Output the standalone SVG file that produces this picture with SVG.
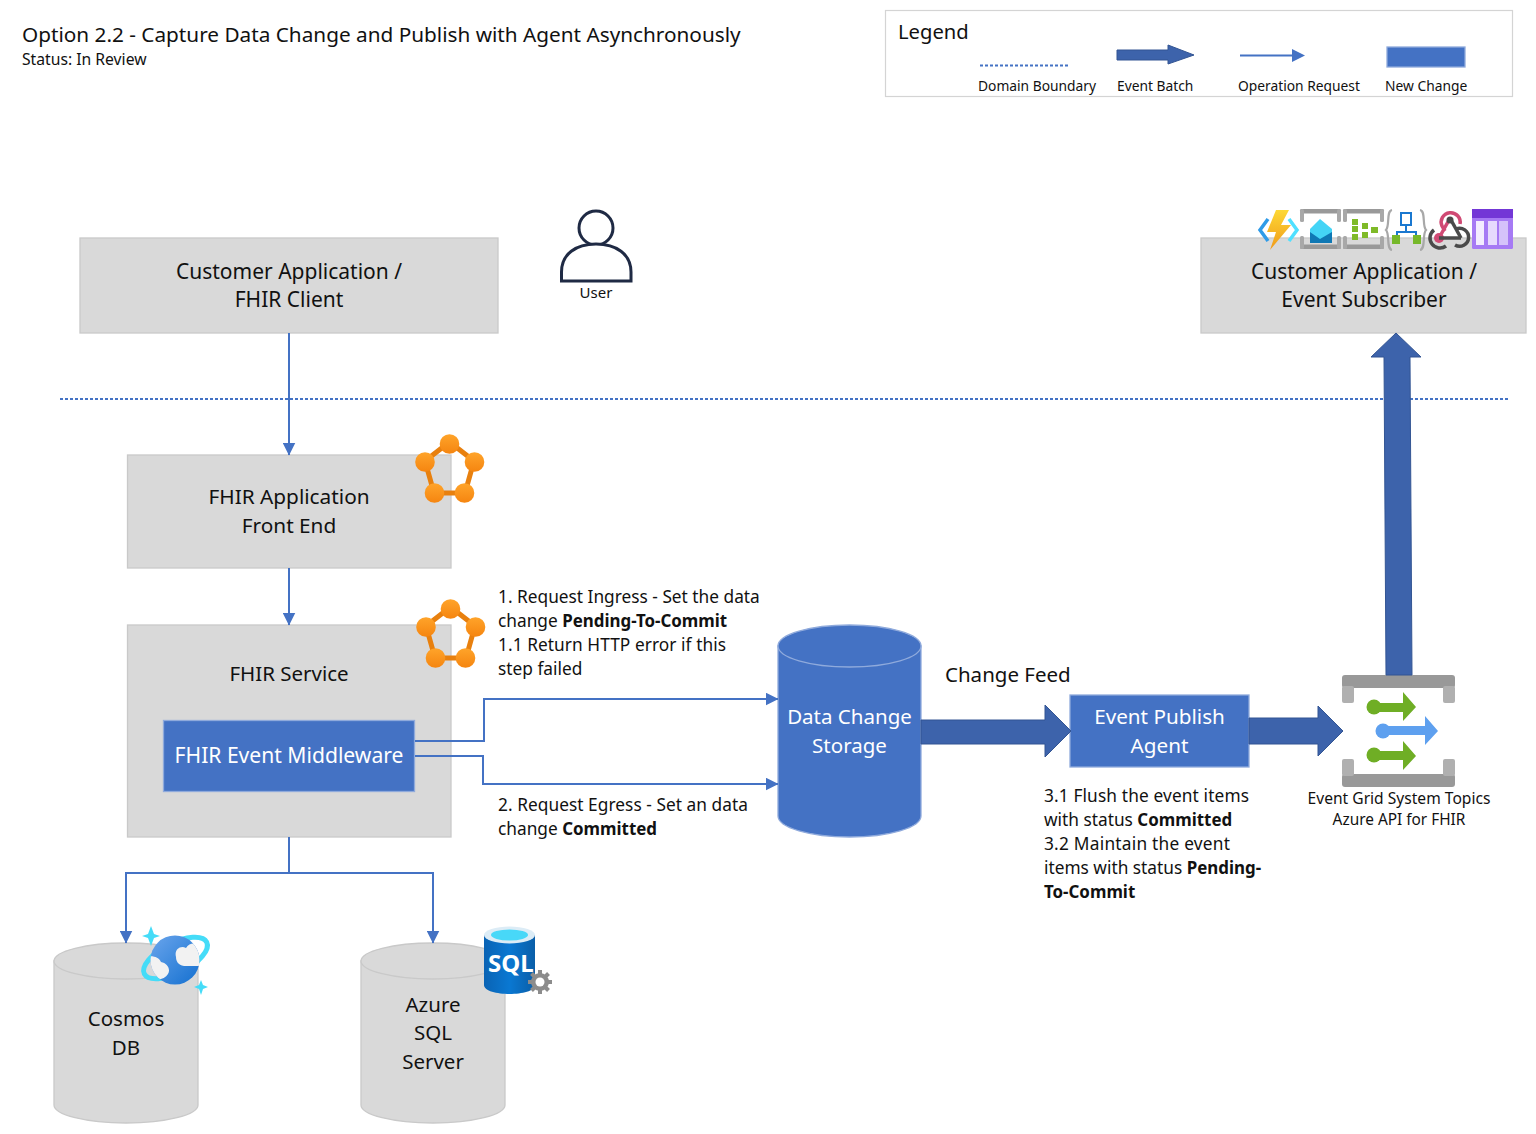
<svg xmlns="http://www.w3.org/2000/svg" width="1536" height="1134" viewBox="0 0 1536 1134">
<style>
text{font-family:"Noto Sans","Open Sans","DejaVu Sans",sans-serif;fill:#111}
.t22{font-size:20.750px}.t21{font-size:21px}.t20{font-size:20.500px}.t18{font-size:17.300px}.t14{font-size:13.800px}.t15{font-size:15.600px}
.m{text-anchor:middle}.w{fill:#fff}.b{font-weight:700;font-size:16.900px}
.g{fill:#d9d9d9;stroke:#c9c9c9;stroke-width:1.3}
.n{fill:#4472c4;stroke:#8faadc;stroke-width:1.3}
.c{fill:none;stroke:#4472c4;stroke-width:2}
.big{fill:#3d63ab;stroke:#335593;stroke-width:1}
.oe{stroke:#e8800e;stroke-width:5;fill:none}
.gb{fill:#999}
.gl{fill:#b0b0b0}
</style>
<defs>
<marker id="ah" viewBox="0 0 13 13" refX="12.5" refY="6.5" markerWidth="13" markerHeight="13" markerUnits="userSpaceOnUse" orient="auto"><path d="M0 0L13 6.500L0 13z" fill="#4472c4"/></marker>
<linearGradient id="og" x1="0" y1="0" x2="0" y2="1"><stop offset="0" stop-color="#ffa42a"/><stop offset="1" stop-color="#f58510"/></linearGradient>
<linearGradient id="cg" x1="0" y1="0" x2="1" y2="1"><stop offset="0" stop-color="#6aa5ec"/><stop offset="1" stop-color="#1470d0"/></linearGradient>
<linearGradient id="sg" x1="0" y1="0" x2="1" y2="0"><stop offset="0" stop-color="#0a63b4"/><stop offset=".5" stop-color="#0a78d2"/><stop offset="1" stop-color="#0a5ea8"/></linearGradient>
<linearGradient id="bolt" x1="0" y1="0" x2="0" y2="1"><stop offset="0" stop-color="#fdd835"/><stop offset="1" stop-color="#f09a1a"/></linearGradient>
<clipPath id="globe"><circle cx="175" cy="960" r="24.500"/></clipPath>
<g id="penta">
<path class="oe" d="M34.500 8L10 27L19 59H50L59 27z"/>
<circle cx="34.500" cy="10" r="9.800" fill="url(#og)"/><circle cx="10" cy="28" r="9.800" fill="url(#og)"/><circle cx="59.500" cy="28" r="9.800" fill="url(#og)"/><circle cx="19.500" cy="59" r="9.800" fill="url(#og)"/><circle cx="49.500" cy="59" r="9.800" fill="url(#og)"/>
</g>
<g id="bracket">
<rect x="0" y="0" width="41" height="4.500" rx="1.500" fill="#999"/><rect x="0" y="0" width="4" height="13" rx="1.500" fill="#a8a8a8"/><rect x="37" y="0" width="4" height="13" rx="1.500" fill="#a8a8a8"/>
<rect x="0" y="35.500" width="41" height="4.500" rx="1.500" fill="#999"/><rect x="0" y="27" width="4" height="13" rx="1.500" fill="#a8a8a8"/><rect x="37" y="27" width="4" height="13" rx="1.500" fill="#a8a8a8"/>
</g>
</defs>
<rect width="1536" height="1134" fill="#fff"/>

<g id="title">
<text class="t22" x="22" y="42">Option 2.2 - Capture Data Change and Publish with Agent Asynchronously</text>
<text x="22" y="65" style="font-size:15.700px">Status: In Review</text>
</g>

<g id="legend">
<rect x="885.500" y="10.500" width="627" height="86" fill="#fff" stroke="#d4d4d4" stroke-width="1.2"/>
<text x="898" y="39" style="font-size:20.200px">Legend</text>
<path d="M980 65.500H1068" fill="none" stroke="#4472c4" stroke-width="2" stroke-dasharray="3 2"/>
<path class="big" d="M1117 50H1168V45L1194 55L1168 64V60H1117z"/>
<path d="M1240 55.500H1292" fill="none" stroke="#4472c4" stroke-width="2"/>
<path d="M1292 49L1305 55.500L1292 62z" fill="#4472c4"/>
<rect class="n" x="1387" y="47" width="78" height="20"/>
<text class="t14" x="978" y="91">Domain Boundary</text>
<text class="t14" x="1117" y="91">Event Batch</text>
<text class="t14" x="1238" y="91">Operation Request</text>
<text class="t14" x="1385" y="91">New Change</text>
</g>

<g id="customer-app">
<rect class="g" x="80" y="238" width="418" height="95"/>
<text class="t21 m" x="289" y="279">Customer Application /</text>
<text class="t21 m" x="289" y="307">FHIR Client</text>
</g>

<g id="user">
<circle cx="596" cy="228" r="17" fill="#fff" stroke="#1f2a44" stroke-width="3"/>
<path d="M561.500 281V272C561.500 254 576 244 596 244C616 244 631 254 631 272V281z" fill="#fff" stroke="#1f2a44" stroke-width="3"/>
<text class="m" x="596" y="298" style="font-size:15px">User</text>
</g>

<g id="subscriber">
<rect class="g" x="1201" y="238" width="325" height="95"/>
<text class="t21 m" x="1364" y="279">Customer Application /</text>
<text class="t21 m" x="1364" y="307">Event Subscriber</text>
</g>

<g id="subscriber-icons">
<path d="M1268 219L1260 230L1268 241" fill="none" stroke="#2f9be8" stroke-width="3.500"/>
<path d="M1289 219L1297 230L1289 241" fill="none" stroke="#50e0ff" stroke-width="3.500"/>
<path d="M1276 210H1289L1281 225H1291L1270 250L1276 232H1267z" fill="url(#bolt)"/>
<use href="#bracket" x="1300" y="209"/>
<path d="M1320 219L1332 229V243H1310V229z" fill="#44d4f6"/><path d="M1310 232L1320 239L1332 232V243H1310z" fill="#0f78b4"/>
<use href="#bracket" x="1343" y="209"/>
<g fill="#7fba28"><rect x="1352" y="219" width="6" height="6"/><rect x="1352" y="226" width="6" height="6"/><rect x="1352" y="234" width="6" height="6"/><rect x="1362" y="223" width="6" height="6"/><rect x="1362" y="232" width="6" height="6"/><rect x="1371" y="227" width="7" height="6"/></g>
<path d="M1392 210C1386 211 1390 226 1386 230C1390 234 1386 249 1392 250M1420 210C1426 211 1422 226 1426 230C1422 234 1426 249 1420 250" fill="none" stroke="#a8a8a8" stroke-width="2.200"/>
<rect x="1401" y="213" width="10" height="12" fill="#fff" stroke="#1a78d0" stroke-width="2"/>
<path d="M1406 225V232M1397 240V232H1416V240" fill="none" stroke="#1a78d0" stroke-width="2"/>
<rect x="1392" y="235" width="8" height="9" fill="#76b82a"/><rect x="1413" y="235" width="8" height="9" fill="#76b82a"/>
<path d="M1445 231L1442 226A9.500 9.500 0 1 1 1460 224" fill="none" stroke="#d04a74" stroke-width="3.500"/>
<path d="M1439 238L1449 220" fill="none" stroke="#d04a74" stroke-width="3.500"/>
<circle cx="1439" cy="238" r="5" fill="#d04a74"/>
<path d="M1451 220L1461 238" fill="none" stroke="#4a4a4a" stroke-width="3.500"/>
<circle cx="1450" cy="220" r="3.500" fill="#4a4a4a"/>
<path d="M1439 238H1461" fill="none" stroke="#4a4a4a" stroke-width="3.500"/>
<path d="M1456 229A9 9 0 1 1 1455 245" fill="none" stroke="#4a4a4a" stroke-width="3.500"/>
<path d="M1446 246A9.500 9.500 0 1 1 1434 230" fill="none" stroke="#4a4a4a" stroke-width="3.500"/>
<rect x="1472" y="209" width="41" height="40" rx="1.500" fill="#a67af4"/><rect x="1472" y="209" width="41" height="9" fill="#7337d6"/>
<rect x="1476" y="221" width="8" height="24" fill="#f3ecff"/><rect x="1488" y="221" width="9" height="24" fill="#e6dafd"/><rect x="1499" y="221" width="9" height="24" fill="#d5c2fa"/>
</g>

<g id="fhir-front-end">
<rect class="g" x="127.500" y="455" width="323.500" height="113"/>
<text class="t20 m" x="289" y="504" style="font-size:20.800px">FHIR Application</text>
<text class="t20 m" x="289" y="533" style="font-size:20.800px">Front End</text>
<use href="#penta" x="415" y="434"/>
</g>

<g id="fhir-service">
<rect class="g" x="127.500" y="625" width="323.500" height="212"/>
<text class="t20 m" x="289" y="681">FHIR Service</text>
<use href="#penta" x="416" y="599"/>
</g>

<g id="fhir-middleware">
<rect class="n" x="163.500" y="720.500" width="251" height="71"/>
<text class="t21 m w" x="289" y="763" style="font-size:21.100px">FHIR Event Middleware</text>
</g>

<g id="data-change-storage">
<path class="n" d="M778 646V816A71.500 21 0 0 0 921 816V646z"/>
<ellipse class="n" cx="849.500" cy="646" rx="71.500" ry="21"/>
<text class="t20 m w" x="849.500" y="724">Data Change</text>
<text class="t20 m w" x="849.500" y="753">Storage</text>
</g>

<g id="event-publish-agent">
<rect class="n" x="1070" y="695" width="179" height="72"/>
<text class="t20 m w" x="1159.500" y="724" style="font-size:20.700px">Event Publish</text>
<text class="t20 m w" x="1159.500" y="753" style="font-size:20.700px">Agent</text>
</g>

<g id="event-grid">
<rect x="1342" y="675" width="113" height="13" rx="3" class="gb"/>
<rect x="1342" y="686" width="12" height="17" rx="2" class="gl"/><rect x="1443" y="686" width="12" height="17" rx="2" class="gl"/>
<rect x="1342" y="774" width="113" height="13" rx="3" class="gb"/>
<rect x="1342" y="759" width="12" height="17" rx="2" class="gl"/><rect x="1443" y="759" width="12" height="17" rx="2" class="gl"/>
<path d="M1374 703H1403V692L1416 707L1403 721V712H1374z" fill="#6fae25"/><circle cx="1374" cy="707" r="7.500" fill="#6fae25"/>
<path d="M1383 726H1425V716L1438 731L1425 745V735H1383z" fill="#5ea0ef"/><circle cx="1383" cy="731" r="7.500" fill="#5ea0ef"/>
<path d="M1374 751H1403V741L1416 756L1403 770V760H1374z" fill="#6fae25"/><circle cx="1374" cy="755" r="7.500" fill="#6fae25"/>
<text class="t15 m" x="1399" y="804">Event Grid System Topics</text>
<text class="t15 m" x="1399" y="825" style="font-size:15.400px">Azure API for FHIR</text>
</g>

<g id="cosmos-db">
<path class="g" d="M54 961V1105A72 18 0 0 0 198 1105V961z"/>
<ellipse class="g" cx="126" cy="961" rx="72" ry="18"/>
<text class="t20 m" x="126" y="1026">Cosmos</text>
<text class="t20 m" x="126" y="1055">DB</text>
<ellipse cx="175.500" cy="958" rx="35" ry="15" transform="rotate(-27 175.500 958)" fill="none" stroke="#45dcf8" stroke-width="5"/>
<circle cx="175" cy="960" r="24.500" fill="url(#cg)"/>
<g clip-path="url(#globe)">
<path d="M176 957C174 950 180 945 186 948C190 941 199 943 202 948V966H184C178 965 176 961 176 957z" fill="#f2f2f2"/>
<path d="M146 957C152 955 159 957 161 962C167 963 171 969 168 974C165 979 158 981 152 978L146 975z" fill="#f2f2f2"/>
</g>
<path d="M151 926L154 934L160 936L154 938L151 946L148 938L142 936L148 934z" fill="#45dcf8"/>
<path d="M201 980L203 985L208 987L203 989L201 995L199 989L194 987L199 985z" fill="#45dcf8"/>
</g>

<g id="azure-sql">
<path class="g" d="M361 961V1105A72 18 0 0 0 505 1105V961z"/>
<ellipse class="g" cx="433" cy="961" rx="72" ry="18"/>
<text class="t20 m" x="433" y="1012">Azure</text>
<text class="t20 m" x="433" y="1040">SQL</text>
<text class="t20 m" x="433" y="1069">Server</text>
<path d="M484 935V985C484 991 497 994 509.500 994C522 994 535 991 535 985V935z" fill="url(#sg)"/>
<ellipse cx="509.500" cy="935" rx="25.500" ry="8.500" fill="#dcecf6"/>
<ellipse cx="509.500" cy="935" rx="18.500" ry="5.500" fill="#48d8f8"/>
<text x="488" y="972" style="font-size:24px;font-weight:700;fill:#fff">SQL</text>
<path d="M540 970V994M528 982H552M531.500 973.500L548.500 990.500M548.500 973.500L531.500 990.500" stroke="#8c8c8c" stroke-width="4"/>
<circle cx="540" cy="982" r="9" fill="#8c8c8c"/>
<circle cx="540" cy="982" r="4.500" fill="#fff"/>
</g>

<g id="notes">
<text class="t18" x="498" y="603">1. Request Ingress - Set the data</text>
<text class="t18" x="498" y="627">change <tspan class="b">Pending-To-Commit</tspan></text>
<text class="t18" x="498" y="651" textLength="228">1.1 Return HTTP error if this</text>
<text class="t18" x="498" y="675">step failed</text>
<text class="t18" x="498" y="811" textLength="250">2. Request Egress - Set an data</text>
<text class="t18" x="498" y="835">change <tspan class="b">Committed</tspan></text>
<text class="t20" x="945" y="682">Change Feed</text>
<text class="t18" x="1044" y="802" textLength="205">3.1 Flush the event items</text>
<text class="t18" x="1044" y="826">with status <tspan class="b">Committed</tspan></text>
<text class="t18" x="1044" y="850" textLength="186">3.2 Maintain the event</text>
<text class="t18" x="1044" y="874">items with status <tspan class="b">Pending-</tspan></text>
<text class="t18 b" x="1044" y="898">To-Commit</text>
</g>

<g id="connectors">
<path d="M60 399H1510" fill="none" stroke="#4472c4" stroke-width="1.800" stroke-dasharray="3 2"/>
<path class="c" d="M289 333V455" marker-end="url(#ah)"/>
<path class="c" d="M289 568V625" marker-end="url(#ah)"/>
<path class="c" d="M289 837V873"/>
<path class="c" d="M289 873H126V943" marker-end="url(#ah)"/>
<path class="c" d="M289 873H433V943" marker-end="url(#ah)"/>
<path class="c" d="M415 741H484V699H778" marker-end="url(#ah)"/>
<path class="c" d="M415 756H483V784H778" marker-end="url(#ah)"/>
<path class="big" d="M921 720H1045V705L1071 731L1045 757V744H921z"/>
<path class="big" d="M1249 718H1318V706L1343 731L1318 756V744H1249z"/>
<path class="big" d="M1386 675L1384 357H1371L1396 333L1421 357H1410L1412 675z"/>
</g>
</svg>
